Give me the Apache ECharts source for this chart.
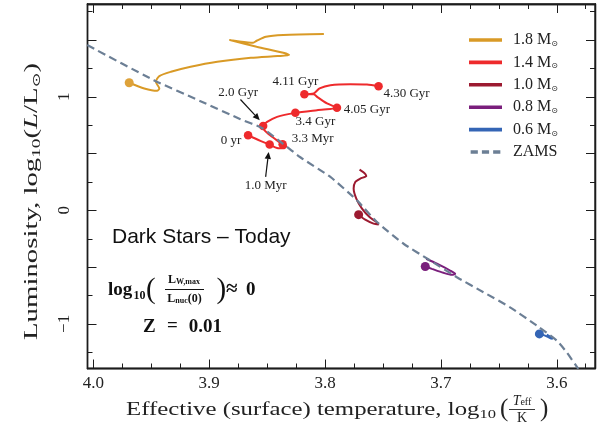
<!DOCTYPE html>
<html><head><meta charset="utf-8">
<script src="https://cdn.jsdelivr.net/npm/echarts@6/dist/echarts.min.js"></script>
<style>html,body{margin:0;padding:0;background:#fff}#c{width:600px;height:428px}</style>
</head><body><div id="c"></div>
<script>
// ---------------- data (log10 Teff, log10 L/Lsun) ----------------
const m18LogT = [3.969,3.956,3.945,3.943,3.946,3.943,3.933,3.916,3.893,3.864,3.841,3.831,3.836,3.859,3.882,3.862,3.859,3.851,3.836,3.801];
const m18LogL = [1.124,1.074,1.053,1.074,1.132,1.183,1.221,1.265,1.309,1.344,1.359,1.368,1.388,1.441,1.500,1.477,1.494,1.530,1.545,1.553];

const m14LogT = [3.8664,3.8558,3.8478,3.8414,3.8351,3.8334,3.8366,3.8428,3.8486,3.8523,3.8534,3.8500,3.8414,3.8256,3.8069,3.7897,3.7983,3.8069,3.8098,3.8178,3.8098,3.8047,3.7954,3.7782,3.7638,3.7538];
const m14LogL = [0.662,0.612,0.580,0.550,0.547,0.568,0.583,0.627,0.671,0.706,0.744,0.779,0.824,0.859,0.883,0.903,0.942,1.000,1.024,1.024,1.030,1.074,1.103,1.112,1.109,1.094];
const m14MarkIdx = [0,2,6,10,13,15,19,25];
const m14MarkLabels = ['0 yr','1.0 Myr','3.3 Myr','2.0 Gyr','3.4 Gyr','4.05 Gyr','4.11 Gyr','4.30 Gyr'];

const m10LogT = [3.7710,3.7653,3.7581,3.7538,3.7552,3.7616,3.7681,3.7730,3.7753,3.7739,3.7696,3.7644,3.7661,3.7702];
const m10LogL = [-0.038,-0.082,-0.117,-0.124,-0.106,-0.059,0.015,0.103,0.192,0.250,0.280,0.303,0.329,0.359];

const m08LogT = [3.7135,3.7078,3.6978,3.6905,3.6877,3.6920,3.7034,3.7127];
const m08LogL = [-0.494,-0.515,-0.550,-0.568,-0.559,-0.530,-0.470,-0.426];

const m06LogT = [3.6150,3.6101,3.6058,3.6034,3.6058,3.6086];
const m06LogL = [-1.088,-1.103,-1.124,-1.132,-1.112,-1.094];

const zamsLogT = [4.0052,3.9478,3.9075,3.8730,3.8541,3.8368,3.8213,3.7954,3.7724,3.7552,3.7322,3.7092,3.6862,3.6633,3.6403,3.6172,3.6000,3.5914,3.5814];
const zamsLogL = [1.456,1.147,0.962,0.803,0.724,0.591,0.468,0.294,0.088,-0.103,-0.294,-0.441,-0.589,-0.721,-0.854,-1.015,-1.147,-1.251,-1.397];

const seriesNames = ['1.8','1.4','1.0','0.8','0.6','ZAMS'];
const xMajorTicks = [4.0,3.9,3.8,3.7,3.6];
const xMinorTicks = [3.975,3.95,3.925,3.875,3.85,3.825,3.775,3.75,3.725,3.675,3.65,3.625,3.575];
const yMajorTicks = [-1,-0.5,0,0.5,1,1.5];
const yMinorTicks = [-1.25,-0.75,-0.25,0.25,0.75,1.25,1.75];
const yTickLabels = [-1,0,1];

// ---------------- styling ----------------
const serif = '"Liberation Serif","DejaVu Serif",serif';
const C = {m18:'#d99a26', m18dot:'#dea23a', m14:'#ee2a2c', m10:'#9c1a30', m08:'#7a1f7c', m06:'#3465b5', zams:'#6c7f95', ink:'#1c1c1c'};
const XR = {min:3.567, max:4.005};
const YR = {min:-1.393, max:1.818};

function pairs(a,b){return a.map((v,i)=>[v,b[i]]);}
const mctx = document.createElement('canvas').getContext('2d');
function tw(font, s){ mctx.font = font; return mctx.measureText(s).width; }

function xAx(pos, ticks, len, labels){
  return {type:'value', position:pos, inverse:true, min:XR.min, max:XR.max,
    axisLine:{show:true, onZero:false, lineStyle:{color:C.ink, width:1.3}},
    axisTick:{show:true, inside:true, length:len, customValues:ticks, lineStyle:{color:C.ink, width:1}},
    axisLabel:{show:labels, customValues:ticks, margin:7, fontFamily:serif, fontSize:17, color:'#222',
      formatter:v=>Number(v).toFixed(1)},
    splitLine:{show:false}, axisPointer:{show:false}};
}
function yAx(pos, ticks, len, labels){
  return {type:'value', position:pos, min:YR.min, max:YR.max,
    axisLine:{show:true, onZero:false, lineStyle:{color:C.ink, width:1.3}},
    axisTick:{show:true, inside:true, length:len, customValues:ticks, lineStyle:{color:C.ink, width:1}},
    axisLabel:{show:labels, customValues:yTickLabels, rotate:90, margin:14, fontFamily:serif, fontSize:17, color:'#222',
      formatter:v=>v<0?'\u2212'+Math.abs(v):String(v)},
    splitLine:{show:false}, axisPointer:{show:false}};
}

function track(name, t, l, color, w){
  return {name, type:'line', data:pairs(t,l), symbol:'none', showSymbol:false, smooth:0.25, clip:true,
    lineStyle:{color, width:w}, itemStyle:{color}, emphasis:{disabled:true}, z:3};
}
function startDot(t,l,color){
  return {type:'scatter', data:[[t[0],l[0]]], symbolSize:9, itemStyle:{color, opacity:1}, z:4, emphasis:{disabled:true}, silent:true};
}

// label offsets (px, text centre relative to dot centre) for 1.4 Msun marks
const m14LabelOffsets = [[-17,5],[-4,41],[30,-6],[-25,-33],[20,9],[30,2],[-9,-13],[28,7]];
const dashIcon = 'path://M0,0h8v4h-8zM12.5,0h8v4h-8zM25,0h8v4h-8z';

const chart = echarts.init(document.getElementById('c'), null, {renderer:'canvas'});
const option = {
  animation:false,
  backgroundColor:'#fff',
  grid:{left:87.5, right:5, top:4, bottom:59.5, show:true, borderColor:C.ink, borderWidth:1.3, outerBoundsMode:'none'},
  xAxis:[xAx('bottom',xMajorTicks,9,true), xAx('bottom',xMinorTicks,5,false), xAx('top',xMajorTicks,9,false), xAx('top',xMinorTicks,5,false)],
  yAxis:[yAx('left',yMajorTicks,9,true), yAx('left',yMinorTicks,5,false), yAx('right',yMajorTicks,9,false), yAx('right',yMinorTicks,5,false)],
  legend:{
    data:seriesNames.map(n=>({name:n, icon: n==='ZAMS'?dashIcon:'rect'})),
    orient:'vertical', left:464, top:27, itemWidth:33, itemHeight:3.6, itemGap:6.4, selectedMode:false,
    itemStyle:{borderWidth:0},
    formatter:n=>n==='ZAMS'?'{a|ZAMS}':'{a|'+n+' M}{s|\u2299}',
    textStyle:{padding:[0,0,0,6], rich:{
      a:{fontFamily:serif, fontSize:16, color:'#222', lineHeight:16},
      s:{fontFamily:'"DejaVu Sans",sans-serif', fontSize:8, color:'#222', verticalAlign:'bottom', lineHeight:16}
    }}
  },
  series:[
    track('1.8', m18LogT, m18LogL, C.m18, 2),
    track('1.4', m14LogT, m14LogL, C.m14, 2),
    track('1.0', m10LogT, m10LogL, C.m10, 2),
    track('0.8', m08LogT, m08LogL, C.m08, 2),
    track('0.6', m06LogT, m06LogL, C.m06, 2),
    {name:'ZAMS', type:'line', data:pairs(zamsLogT, zamsLogL), symbol:'none', showSymbol:false, smooth:0.2, clip:true,
      lineStyle:{color:C.zams, width:2.2, type:[8,4.5]}, itemStyle:{color:C.zams}, z:5, emphasis:{disabled:true}},
    startDot(m18LogT, m18LogL, C.m18dot),
    startDot(m10LogT, m10LogL, C.m10),
    startDot(m08LogT, m08LogL, C.m08),
    startDot(m06LogT, m06LogL, C.m06),
    {type:'scatter', symbolSize:8.5, itemStyle:{color:C.m14, opacity:1}, z:4, silent:true, emphasis:{disabled:true},
      data:m14MarkIdx.map((k,i)=>({value:[m14LogT[k], m14LogL[k]],
        label:{show:true, position:'inside', offset:m14LabelOffsets[i], formatter:m14MarkLabels[i],
          fontFamily:serif, fontSize:13, color:'#222'}}))}
  ]
};
chart.setOption(option);

// arrows (anchored to data points)
function arrow(k, s, e){
  const p = chart.convertToPixel({xAxisIndex:0, yAxisIndex:0}, [m14LogT[k], m14LogL[k]]);
  const x1=p[0]+s[0], y1=p[1]+s[1], x2=p[0]+e[0], y2=p[1]+e[1];
  const a=Math.atan2(y2-y1,x2-x1), L=7, W=3.2;
  const hx=x2-L*Math.cos(a), hy=y2-L*Math.sin(a);
  return [
    {type:'line', shape:{x1,y1,x2:hx,y2:hy}, style:{stroke:'#111', lineWidth:1.2}, z:10},
    {type:'polygon', shape:{points:[[x2,y2],[hx+W*Math.sin(a),hy-W*Math.cos(a)],[hx-W*Math.sin(a),hy+W*Math.cos(a)]]}, style:{fill:'#111'}, z:10}
  ];
}
const bold = 'bold 19px '+serif;

// x-axis title, stretched to the reference span
const xMain = 'Effective (surface) temperature, log';
const xMainW = tw('18px '+serif, xMain) + tw('12px '+serif, '10');
const xScale = (496 - 126) / xMainW;
// y-axis title
const yW = tw('18px '+serif,'Luminosity, log') + tw('12px '+serif,'10') + tw('18px '+serif,'(') + tw('italic 18px '+serif,'L') + tw('18px '+serif,'/L)') + tw('11px "DejaVu Sans"','\u2299');
const yScale = 277 / yW;

const g = [].concat(
  arrow(m14MarkIdx[3], [-22.7,-26.4], [-3.4,-5.7]),
  arrow(m14MarkIdx[1], [-4,32.4], [-1,7.4]),
  [
    {type:'text', x:112, y:237, style:{text:'Dark Stars \u2013 Today', font:'21px "Liberation Sans",Arial,sans-serif', fill:'#111', textVerticalAlign:'middle'}},
    // formula
    {type:'text', x:108, y:290, style:{text:'log', font:bold, fill:'#111', textVerticalAlign:'middle'}},
    {type:'text', x:133.5, y:296, style:{text:'10', font:'bold 12px '+serif, fill:'#111', textVerticalAlign:'middle'}},
    {type:'text', x:146, y:290, style:{text:'(', font:'29px '+serif, fill:'#111', textVerticalAlign:'middle'}},
    {type:'text', x:184, y:280, style:{text:'{b|L}{s|W,max}', fill:'#111', textAlign:'center', textVerticalAlign:'middle',
      rich:{b:{font:'bold 12px '+serif, lineHeight:12}, s:{font:'bold 8px '+serif, verticalAlign:'bottom', lineHeight:12}}}},
    {type:'line', shape:{x1:165, y1:289.5, x2:204, y2:289.5}, style:{stroke:'#111', lineWidth:1}},
    {type:'text', x:184.5, y:299, style:{text:'{b|L}{s|nuc}{b|(0)}', fill:'#111', textAlign:'center', textVerticalAlign:'middle',
      rich:{b:{font:'bold 12px '+serif, lineHeight:12}, s:{font:'bold 8px '+serif, verticalAlign:'bottom', lineHeight:12}}}},
    {type:'text', x:216.5, y:290, style:{text:')', font:'29px '+serif, fill:'#111', textVerticalAlign:'middle'}},
    {type:'text', x:226, y:290, style:{text:'\u2248', font:'bold 21px '+serif, fill:'#111', textVerticalAlign:'middle'}},
    {type:'text', x:246, y:290, style:{text:'0', font:bold, fill:'#111', textVerticalAlign:'middle'}},
    {type:'text', x:143, y:327, style:{text:'Z', font:bold, fill:'#111', textVerticalAlign:'middle'}},
    {type:'text', x:172.5, y:326, style:{text:'=', font:bold, fill:'#111', textAlign:'center', textVerticalAlign:'middle'}},
    {type:'text', x:222, y:327, style:{text:'0.01', font:bold, fill:'#111', textAlign:'right', textVerticalAlign:'middle'}},
    // x title
    {type:'text', x:126, y:410, scaleX:xScale, style:{text:xMain+'{s|10}', font:'18px '+serif, fill:'#222', textVerticalAlign:'middle',
      rich:{s:{font:'12px '+serif, verticalAlign:'bottom', lineHeight:22}}}},
    {type:'text', x:500, y:409, style:{text:'(', font:'25px '+serif, fill:'#222', textVerticalAlign:'middle'}},
    {type:'text', x:522, y:401, style:{text:'{i|T}{s|eff}', fill:'#222', textAlign:'center', textVerticalAlign:'middle',
      rich:{i:{font:'italic 14px '+serif, lineHeight:13}, s:{font:'10px '+serif, verticalAlign:'bottom', lineHeight:13}}}},
    {type:'line', shape:{x1:509, y1:409.5, x2:535, y2:409.5}, style:{stroke:'#222', lineWidth:0.9}},
    {type:'text', x:522, y:418, style:{text:'K', font:'14px '+serif, fill:'#222', textAlign:'center', textVerticalAlign:'middle'}},
    {type:'text', x:540, y:409, style:{text:')', font:'25px '+serif, fill:'#222', textVerticalAlign:'middle'}},
    // y title
    {type:'text', x:32, y:201.5, rotation:Math.PI/2, scaleX:yScale, style:{text:'Luminosity, log{s|10}({i|L}/L{t|\u2299})', font:'18px '+serif, fill:'#222', textAlign:'center', textVerticalAlign:'middle',
      rich:{s:{font:'12px '+serif, verticalAlign:'bottom', lineHeight:22}, t:{font:'11px "DejaVu Sans"', verticalAlign:'bottom', lineHeight:22}, i:{font:'italic 18px '+serif, lineHeight:22}}}}
  ]
);
chart.setOption({graphic:g});
</script></body></html>
